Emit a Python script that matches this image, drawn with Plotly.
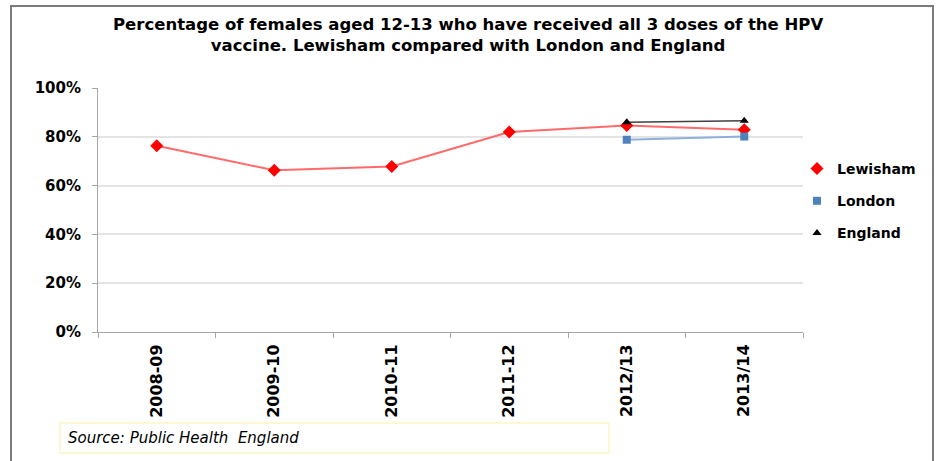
import plotly.graph_objects as go

categories = ["2008-09", "2009-10", "2010-11", "2011-12", "2012/13", "2013/14"]
lewisham = [76.3, 66.3, 67.8, 82.0, 84.6, 82.9]
london = [None, None, None, None, 78.8, 80.1]
england = [None, None, None, None, 86.0, 86.6]
y_ticks = [0, 20, 40, 60, 80, 100]
y_tick_labels = ["0%", "20%", "40%", "60%", "80%", "100%"]

W, H = 938, 461
PLOT_L, PLOT_R, PLOT_T, PLOT_B = 98, 803, 88, 332   # in window pixels
ML, MT = PLOT_L, PLOT_T
MR, MB = W - PLOT_R, H - PLOT_B
PW, PH = PLOT_R - PLOT_L, PLOT_B - PLOT_T


def px(x):
    return (x - PLOT_L) / PW


def py(y):
    return (PLOT_B - y) / PH


FONT = "DejaVu Sans"

fig = go.Figure()

fig.add_trace(go.Scatter(
    x=categories, y=lewisham, mode="lines+markers", name="Lewisham",
    line=dict(color="#ff6b6b", width=2),
    marker=dict(symbol="diamond", size=10, color="#ff0000"),
    showlegend=False,
))
fig.add_trace(go.Scatter(
    x=categories, y=london, mode="lines+markers", name="London",
    line=dict(color="#8fb0dc", width=2),
    marker=dict(symbol="square", size=8, color="#4f81bd"),
    showlegend=False,
))
fig.add_trace(go.Scatter(
    x=categories, y=england, mode="lines+markers", name="England",
    line=dict(color="#404040", width=1.5),
    marker=dict(symbol="triangle-up", size=8, color="#000000"),
    showlegend=False,
))

# legend entries (marker only, as in the reference)
for name, sym, col, sz in [("Lewisham", "diamond", "#ff0000", 10),
                           ("London", "square", "#4f81bd", 8),
                           ("England", "triangle-up", "#000000", 8)]:
    fig.add_trace(go.Scatter(
        x=[None], y=[None], mode="markers", name=name, legendgroup=name,
        marker=dict(symbol=sym, size=sz, color=col),
    ))

fig.update_layout(
    width=W, height=H,
    margin=dict(l=ML, r=MR, t=MT, b=MB, autoexpand=False),
    paper_bgcolor="white", plot_bgcolor="white",
    font=dict(family=FONT, color="#000000"),
    showlegend=True,
    legend=dict(
        x=px(797), y=py(153), xanchor="left", yanchor="top",
        font=dict(family=FONT, size=14, color="#000000", weight="bold"),
        itemwidth=30, tracegroupgap=11, traceorder="grouped",
        bgcolor="rgba(0,0,0,0)",
    ),
    xaxis=dict(
        type="category", range=[-0.5, 5.5],
        tickson="boundaries", ticks="outside", ticklen=5, tickcolor="#a6a6a6",
        showline=True, linecolor="#a6a6a6", linewidth=1,
        showgrid=False, tickangle=-90, ticklabelstandoff=5,
        tickfont=dict(family=FONT, size=16, color="#000000", weight="bold"),
    ),
    yaxis=dict(
        range=[0, 100], tickvals=y_ticks, ticktext=y_tick_labels,
        ticks="outside", ticklen=5, tickcolor="#a6a6a6",
        showline=True, linecolor="#a6a6a6", linewidth=1,
        showgrid=True, gridcolor="#e4e4e4", gridwidth=1.5, zeroline=False,
        ticklabelstandoff=8,
        tickfont=dict(family=FONT, size=15, color="#000000", weight="bold"),
    ),
)

fig.add_annotation(
    xref="paper", yref="paper", x=px(468), y=py(35),
    xanchor="center", yanchor="middle", showarrow=False,
    text="Percentage of females aged 12-13 who have received all 3 doses of the HPV<br>vaccine. Lewisham compared with London and England",
    font=dict(family=FONT, size=16.5, color="#000000", weight="bold"),
)

# source box
fig.add_shape(type="rect", xref="paper", yref="paper",
              x0=px(60), x1=px(609), y0=py(453), y1=py(423),
              line=dict(color="#fbf6c4", width=1.5), fillcolor="white", layer="below")
fig.add_annotation(
    xref="paper", yref="paper", x=px(66), y=py(438),
    xanchor="left", yanchor="middle", showarrow=False,
    text="Source: Public Health\u00a0 England",
    font=dict(family=FONT, size=15, color="#000000", style="italic"),
)

# chart frame
fig.add_shape(type="path", xref="paper", yref="paper",
              path=f"M {px(11)} {py(475)} L {px(11)} {py(6)} L {px(933)} {py(6)} L {px(933)} {py(475)}",
              line=dict(color="#7a7a7a", width=2))

fig.write_html(
    "out.html",
    config={"displayModeBar": False},
    post_script="document.body.style.margin='0';document.body.style.overflow='hidden';",
)
